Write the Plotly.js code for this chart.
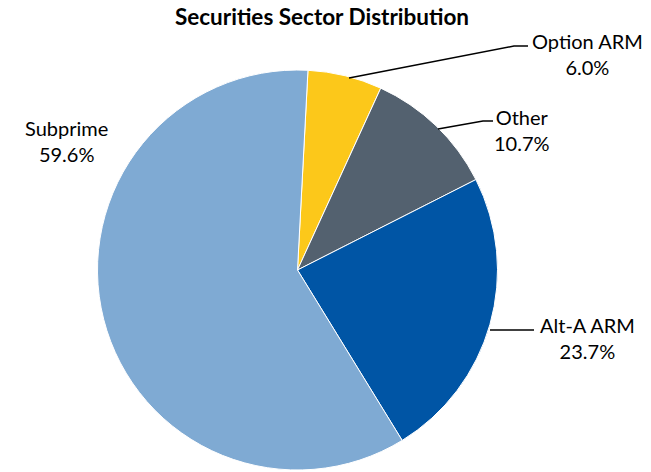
<!DOCTYPE html>
<html>
<head>
<meta charset="utf-8">
<script src="https://cdn.plot.ly/plotly-3.0.1.min.js"></script>
<style>html,body{margin:0;padding:0;background:#fff;}#chart{width:651px;height:472px;}</style>
</head>
<body>
<div id="chart"></div>
<script>
const labels = ["Option ARM", "Other", "Alt-A ARM", "Subprime"];
const values = [6.0, 10.7, 23.7, 59.6];
const colors = ["#FCC81A", "#53616F", "#0055A5", "#7FAAD3"];
const titleText = "Securities Sector Distribution";

const W = 651, H = 472;
const px = x => x / W;
const py = y => 1 - y / H;

// label placements (pixels) and leader lines
const labelPos = [[587, 54], [522, 130], [587, 338], [66, 141]];
const leaders = [
  [[349, 78], [514, 46], [528, 46]],
  [[438, 129], [483, 121], [493, 121]],
  [[490, 330], [534, 330]],
  null
];

const annotations = labels.map((l, i) => ({
  xref: 'paper', yref: 'paper',
  x: px(labelPos[i][0]), y: py(labelPos[i][1]),
  xanchor: 'center', yanchor: 'middle',
  text: l + '<br>' + values[i].toFixed(1) + '%',
  showarrow: false,
  font: {family: 'Lato, sans-serif', size: 20, color: '#000'}
}));

const shapes = [];
leaders.forEach(pts => {
  if (!pts) return;
  const d = pts.map((p, j) => (j ? 'L' : 'M') + px(p[0]) + ',' + py(p[1])).join(' ');
  shapes.push({type: 'path', xref: 'paper', yref: 'paper', path: d, line: {color: '#000', width: 1.5}});
});

const trace = {
  type: 'pie',
  labels: labels,
  values: values,
  sort: false,
  direction: 'clockwise',
  rotation: 3,
  textinfo: 'none',
  hoverinfo: 'label+percent',
  marker: {colors: colors, line: {color: '#fff', width: 1}},
  domain: {x: [97 / W, 498 / W], y: [py(470), py(70)]},
  showlegend: false
};

const layout = {
  width: W, height: H,
  margin: {l: 0, r: 0, t: 0, b: 0},
  paper_bgcolor: '#fff',
  title: {
    text: '<b>' + titleText + '</b>',
    x: 322 / W, xanchor: 'center',
    y: py(17), yanchor: 'middle', yref: 'paper',
    font: {family: 'Lato, sans-serif', size: 22.5, color: '#000'}
  },
  annotations: annotations,
  shapes: shapes,
  showlegend: false
};

Plotly.newPlot('chart', [trace], layout, {staticPlot: true});
</script>
</body>
</html>
